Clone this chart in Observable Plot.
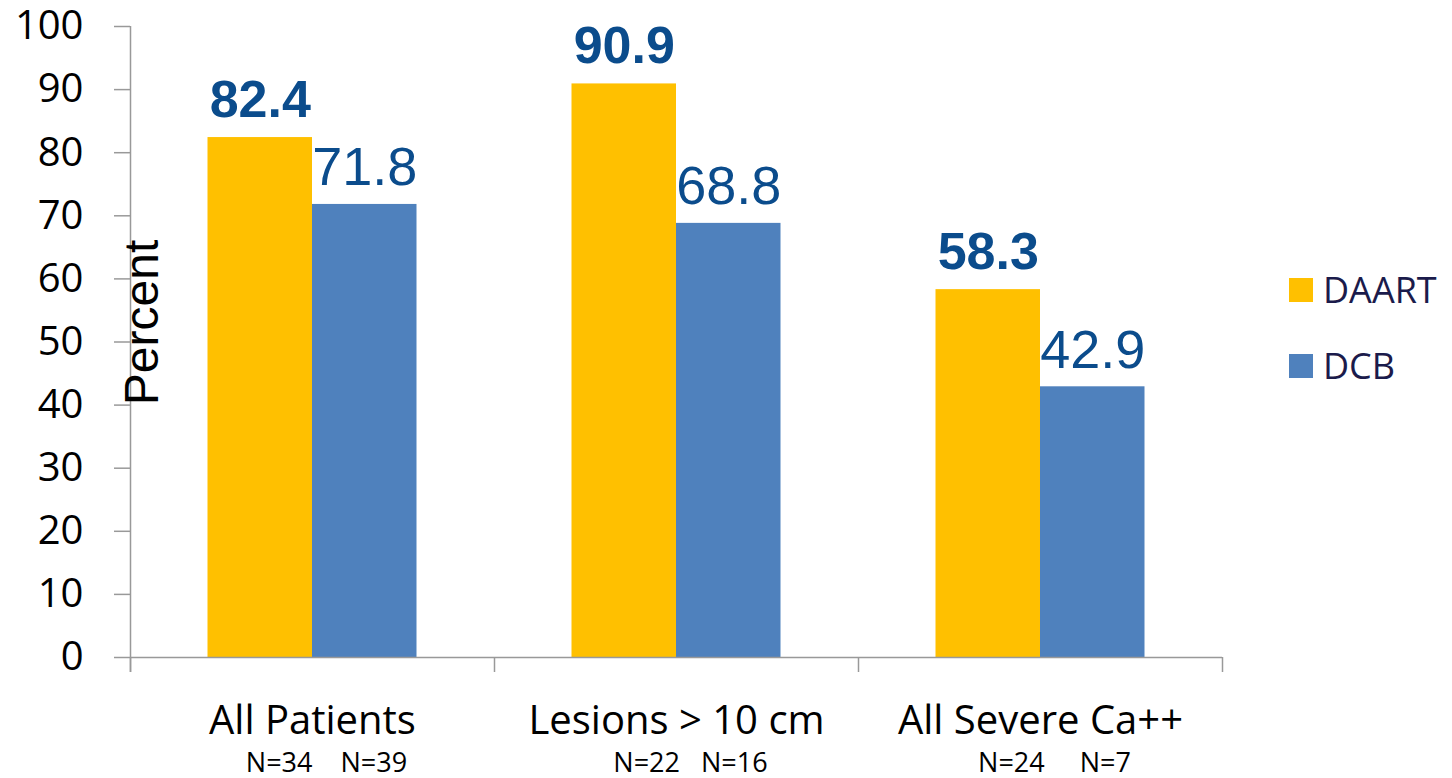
<!DOCTYPE html>
<html>
<head>
<meta charset="utf-8">
<script src="https://cdn.jsdelivr.net/npm/d3@7"></script>
<script src="https://cdn.jsdelivr.net/npm/@observablehq/plot@0.6"></script>
<style>
  body { margin: 0; background: #fff; }
  #wrap { position: relative; width: 1452px; height: 778px; overflow: hidden; }
  #legend { position: absolute; left: 1289px; top: 272px; font-family: "Open Sans", sans-serif; font-size: 36px; color: #1B1B4B; }
  #legend .row { display: flex; align-items: center; height: 35px; line-height: 35px; margin-bottom: 41px; }
  #legend .sw { width: 24px; height: 24px; margin-right: 10px; }
  svg text { white-space: pre; }
</style>
</head>
<body>
<div id="wrap"><div id="legend"></div></div>
<script>
// ---- data ----
const categories = ["All Patients", "Lesions > 10 cm", "All Severe Ca++"];
const seriesNames = ["DAART", "DCB"];
const daartValues = [82.4, 90.9, 58.3];
const dcbValues = [71.8, 68.8, 42.9];
const nLabels = ["N=34    N=39", "N=22   N=16", "N=24     N=7"];
const yTicks = [0, 10, 20, 30, 40, 50, 60, 70, 80, 90, 100];
const seriesColors = ["#FFC000", "#4F81BD"];
const valueColor = "#0B4C8C";
const axisGray = "#999999";

const rows = categories.flatMap((c, i) => [
  {category: c, series: seriesNames[0], value: daartValues[i]},
  {category: c, series: seriesNames[1], value: dcbValues[i]}
]);

// ---- layout ----
const W = 1452, H = 778;
const mL = 130, mR = 230, mT = 26, mB = 121;
const facetW = (W - mL - mR) / categories.length;
const padOuter = 0.7416;
const barStep = facetW / (seriesNames.length + 2 * padOuter);
const edgeOffset = padOuter * barStep + barStep / 2;
const tickUnits = 15 * 100 / (H - mB - mT); // 15px below baseline, in y units

const plot = Plot.plot({
  width: W,
  height: H,
  marginLeft: mL,
  marginRight: mR,
  marginTop: mT,
  marginBottom: mB,
  style: {fontFamily: "Open Sans", background: "white", overflow: "visible"},
  fx: {domain: categories, padding: 0, round: false},
  x: {domain: seriesNames, paddingInner: 0, paddingOuter: padOuter, round: false, axis: null},
  y: {domain: [0, 100], axis: null},
  color: {domain: seriesNames, range: seriesColors},
  marks: [
    Plot.barY(rows, {fx: "category", x: "series", y: "value", fill: "series"}),
    Plot.ruleY([0], {stroke: axisGray, strokeWidth: 1.5}),
    // y axis line (first facet only)
    Plot.ruleX([{category: categories[0], series: seriesNames[0]}], {
      fx: "category", x: "series", y1: -tickUnits, y2: 100, dx: -edgeOffset, stroke: axisGray, strokeWidth: 1.5
    }),
    // category boundary ticks
    Plot.ruleX(categories.map(c => ({category: c, series: seriesNames[0]})), {
      fx: "category", x: "series", y1: -tickUnits, y2: 0, dx: -edgeOffset, stroke: axisGray, strokeWidth: 1.5
    }),
    Plot.ruleX([{category: categories[categories.length - 1], series: seriesNames[1]}], {
      fx: "category", x: "series", y1: -tickUnits, y2: 0, dx: edgeOffset, stroke: axisGray, strokeWidth: 1.5
    }),
    Plot.axisY({
      ticks: yTicks, tickSize: 16, tickPadding: 31, fontSize: 40, fontFamily: "Open Sans",
      stroke: axisGray, strokeWidth: 1.5, fill: "black", label: null
    }),
    Plot.axisFx({
      anchor: "bottom", tickSize: 0, tickPadding: 48, fontSize: 40, fontFamily: "Open Sans",
      fill: "black", label: null
    }),
    Plot.text(categories.map((c, i) => ({category: c, n: nLabels[i]})), {
      fx: "category", text: "n", frameAnchor: "bottom", lineAnchor: "top", dy: 95, dx: 14,
      fontSize: 27, fontFamily: "Open Sans", fill: "black"
    }),
    Plot.text(rows.filter(d => d.series === seriesNames[0]), {
      fx: "category", x: "series", y: "value", text: d => d.value.toFixed(1),
      lineAnchor: "bottom", dy: -21, fontSize: 52, fontWeight: "bold",
      fontFamily: "Liberation Sans, Arial, sans-serif", fill: valueColor
    }),
    Plot.text(rows.filter(d => d.series === seriesNames[1]), {
      fx: "category", x: "series", y: "value", text: d => d.value.toFixed(1),
      lineAnchor: "bottom", dy: -19, fontSize: 54,
      fontFamily: "Liberation Sans, Arial, sans-serif", fill: valueColor
    }),
    Plot.text([{category: categories[0], label: "Percent"}], {
      fx: "category", text: "label", frameAnchor: "left", textAnchor: "middle", rotate: -90, lineAnchor: "bottom",
      dx: 27, dy: -19.5, fontSize: 48, fontFamily: "Liberation Sans, Arial, sans-serif", fill: "black"
    })
  ]
});

const wrap = document.getElementById("wrap");
wrap.insertBefore(plot, wrap.firstChild);

const legend = document.getElementById("legend");
seriesNames.forEach((s, i) => {
  const row = document.createElement("div");
  row.className = "row";
  const sw = document.createElement("div");
  sw.className = "sw";
  sw.style.background = seriesColors[i];
  const label = document.createElement("span");
  label.textContent = s;
  row.appendChild(sw);
  row.appendChild(label);
  legend.appendChild(row);
});
</script>
</body>
</html>
